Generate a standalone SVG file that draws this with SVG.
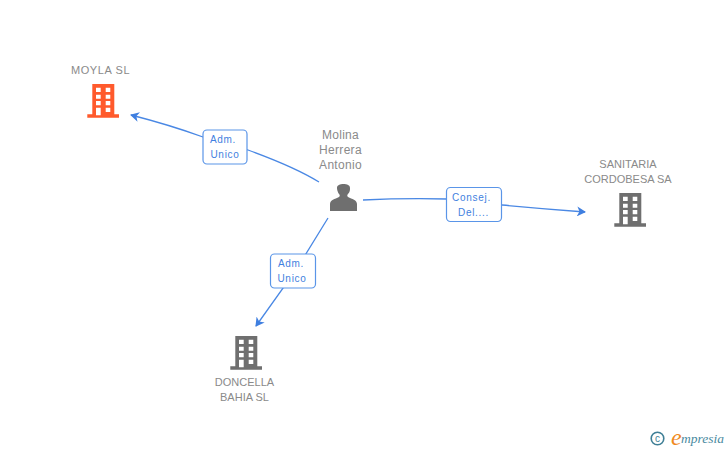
<svg xmlns="http://www.w3.org/2000/svg" width="728" height="450" viewBox="0 0 728 450">
<style>
.n{font:11px "Liberation Sans",Arial,sans-serif;fill:#8a8a8a;text-anchor:middle}
.p{font:12px "Liberation Sans",Arial,sans-serif;fill:#8a8a8a;text-anchor:middle;letter-spacing:.3px}
.l{font:10px "Liberation Sans",Arial,sans-serif;fill:#3f7fe0;text-anchor:middle;letter-spacing:.7px}
.c{fill:none;stroke:#4a88e4;stroke-width:1.300}
.b{fill:#fff;stroke:#5a95e8;stroke-width:1.200}
</style>
<defs>
<marker id="a" markerWidth="10" markerHeight="10" refX="8" refY="5" orient="auto" markerUnits="userSpaceOnUse"><path d="M0 0L9 5L0 10L2.500 5Z" fill="#3f7fe0"/></marker>
<path id="bld" fill-rule="evenodd" d="M5.300 0H27.300V30.300H32V33.700H.3V30.300H5.300ZM9 3.700V8H13.700V3.700ZM18.700 3.700V8H23.300V3.700ZM9 10.700V14.700H13.700V10.700ZM18.700 10.700V14.700H23.300V10.700ZM9 17V21.300H13.700V17ZM18.700 17V21.300H23.300V17ZM9 23.700V31.300H13.700V23.700ZM18.700 23.700V28H23.300V23.700Z"/>
</defs>
<g id="connectors">
<path class="c" marker-end="url(#a)" d="M319 182C298 169 270 158 248 150L203 137Q170 125 131 115"/>
<path class="c" d="M363 200Q405 198 447 199"/>
<path class="c" marker-end="url(#a)" d="M502 205Q545 209 585 212"/>
<path class="c" marker-end="url(#a)" d="M328 218L296 270L256 326"/>
</g>
<g id="moyla"><use href="#bld" x="87" y="84" fill="#ff5a2c"/><text class="n" x="100.500" y="74" letter-spacing=".6">MOYLA SL</text></g>
<g id="molina">
<text class="p" x="340.500" y="139">Molina</text><text class="p" x="340.500" y="154">Herrera</text><text class="p" x="340.500" y="169">Antonio</text>
<path fill="#6f6f6f" d="M330 211V204C330 200 335 199 339 197C340 196 340 195 339 194C337 191 337 188 337 188C337 185 340 184 343.500 184C347 184 350 185 350 188C350 190 350 192 348 194C347 195 347 196 348 197C352 199 357 200 357 204V211Z"/>
</g>
<g id="sanitaria">
<text class="n" x="628" y="168">SANITARIA</text><text class="n" x="628" y="183">CORDOBESA SA</text>
<use href="#bld" x="614" y="193" fill="#6f6f6f"/></g>
<g id="doncella"><use href="#bld" x="230" y="336" fill="#6f6f6f"/>
<text class="n" x="244.500" y="386">DONCELLA</text><text class="n" x="244.500" y="401">BAHIA SL</text></g>
<g id="rel1"><rect class="b" x="203" y="130" width="44" height="34" rx="4"/><text class="l" x="223" y="143">Adm.</text><text class="l" x="225" y="158">Unico</text></g>
<g id="rel2"><rect class="b" x="446.500" y="187.500" width="55" height="34" rx="4"/><text class="l" x="471.500" y="201">Consej.</text><text class="l" x="473.500" y="216">Del....</text></g>
<g id="rel3"><rect class="b" x="270.500" y="254" width="45" height="34" rx="4"/><text class="l" x="291" y="267">Adm.</text><text class="l" x="292" y="282">Unico</text></g>
<g id="logo">
<circle cx="657.500" cy="438.500" r="6.300" fill="none" stroke="#3f7f96" stroke-width="1.600"/>
<text x="657.500" y="442" font-family="'Liberation Sans',sans-serif" font-size="10" fill="#3f7f96" text-anchor="middle">c</text>
<text x="671" y="445" font-family="'Liberation Serif',serif" font-style="italic" font-size="24" fill="#f08a1e">e</text>
<text x="681" y="443" font-family="'Liberation Serif',serif" font-style="italic" font-size="13.500" fill="#4a8aa0">mpresia</text>
</g>
</svg>
